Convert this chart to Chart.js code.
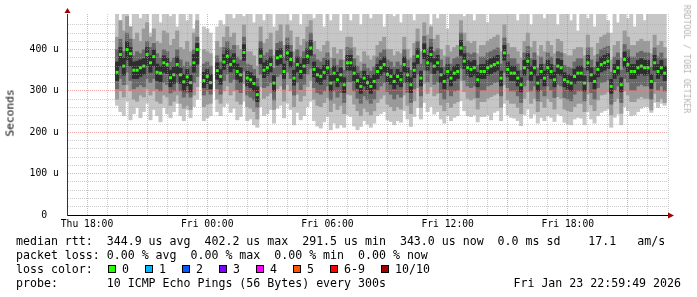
<!DOCTYPE html>
<html>
<head>
<meta charset="utf-8">
<script src="https://cdn.jsdelivr.net/npm/chart.js@4"></script>
<style>
  body { margin: 0; background: #fff; }
  #wrap { position: relative; width: 697px; height: 297px; overflow: hidden; background: #fff; }
  #chart { position: absolute; left: 0; top: 0; }
  .txt { position: absolute; font-family: 'DejaVu Sans Mono', monospace; color: #000; white-space: pre; }
  .line { font-size: 11.6px; line-height: 14px; left: 16px; }
  .box { position: absolute; width: 8px; height: 8px; box-sizing: border-box; border: 1px solid #000; }
</style>
</head>
<body>
<div id="wrap">
  <canvas id="chart" width="697" height="297"></canvas>
  <div class="txt" id="ylabel" style="font-size:11.2px;left:10px;top:113px;transform:translate(-50%,-50%) rotate(-90deg);">Seconds</div>
  <div class="txt" id="mark" style="font-size:8.2px;color:#b4b4b4;left:687px;top:59px;transform:translate(-50%,-50%) rotate(90deg);">RRDTOOL / TOBI OETIKER</div>
  <div id="legend"></div>
</div>
<script>
// time slots: minutes after Thu 17:00, one sample every 10 minutes
const startMin = 150;
const stepMin = 10;

// median rtt (us), null = no data
const median = [
  345,388,360,400,390,350,350,356,360,388,368,383,345,343,368,364,332,339,364,339,322,334,320,368,400,
  null,
  325,335,320,
  null,
  349,335,370,384,364,372,347,339,393,331,
  327,318,291,384,350,356,364,319,380,384,
  347,392,376,331,364,347,360,384,404,352,
  339,335,345,356,319,343,327,339,315,368,
  368,343,325,311,331,320,311,323,347,356,
  364,340,335,323,335,327,364,339,315,350,
  384,331,396,368,388,360,368,339,323,347,
  331,343,347,404,372,356,352,356,327,347,
  347,356,360,364,368,331,392,352,343,343,
  331,315,356,372,343,356,319,347,331,356,
  347,327,360,356,327,322,319,335,343,343,
  319,368,339,323,352,364,368,372,311,347,
  356,315,376,364,347,347,356,360,356,356,
  323,368,347,356,343
];

// smoke: outer pings (min / max)
const outerLo = [
  265,250,240,275,230,245,260,235,250,270,230,255,240,225,260,245,235,250,270,240,228,255,235,262,280,
  null,
  228,235,240,
  null,
  250,240,262,270,248,258,230,238,275,228,
  232,218,212,262,240,245,255,222,258,265,
  235,270,255,218,248,230,240,262,275,228,
  215,210,225,238,206,222,210,218,212,242,
  238,215,206,214,228,220,212,222,240,245,
  250,230,226,218,228,224,252,232,214,238,
  260,232,272,250,262,244,250,232,222,240,
  228,236,240,276,252,240,238,242,225,238,
  238,242,230,248,252,228,270,242,236,234,
  228,216,242,256,234,244,222,236,228,240,
  236,226,244,240,224,220,218,232,236,234,
  218,250,232,222,240,248,252,256,212,236,
  244,218,262,252,240,242,250,258,262,262,
  248,272,260,270,265
];
const outerHi = [
  490,470,490,490,455,490,490,475,490,490,440,490,490,465,490,490,480,490,455,490,490,470,490,450,490,
  null,
  455,450,440,
  null,
  455,470,460,490,490,475,490,490,480,490,
  490,465,490,490,470,490,490,455,490,490,
  490,490,470,490,490,460,490,490,490,475,
  490,490,455,490,470,490,490,445,490,490,
  470,490,490,460,490,490,475,490,490,490,
  455,490,490,480,490,465,490,490,490,470,
  490,490,490,490,460,490,475,490,490,450,
  490,490,490,490,480,490,490,470,490,490,
  490,465,490,490,490,490,490,490,490,490,
  470,490,490,490,460,490,490,490,475,490,
  490,490,460,490,490,490,470,490,445,490,
  490,475,490,455,490,490,490,470,440,490,
  465,490,490,475,490,455,490,490,470,490,
  490,490,490,490,490
];

// smoke: 2nd / 9th ping
const midLo = [
  280,300,285,315,300,280,275,290,285,305,290,300,275,270,290,285,265,275,290,270,258,265,255,290,310,
  null,
  262,268,270,
  null,
  280,270,300,312,290,300,275,268,318,262,
  258,250,232,310,282,288,295,255,305,312,
  275,315,300,262,292,275,288,310,325,280,
  265,262,272,284,250,270,255,265,245,292,
  290,268,252,240,258,250,242,252,272,282,
  290,268,262,252,262,256,290,265,245,276,
  308,260,318,294,310,288,294,266,252,272,
  260,270,274,325,298,282,278,282,256,274,
  274,282,286,290,294,260,315,278,270,270,
  260,245,282,298,270,282,250,274,260,282,
  274,256,286,282,256,252,250,262,270,270,
  250,292,266,252,278,290,292,298,242,274,
  282,246,300,290,274,274,282,286,282,282,
  254,294,274,282,272
];
const midHi = [
  430,470,445,480,455,425,440,420,450,465,430,450,420,415,445,440,410,425,445,405,400,420,395,440,470,
  null,
  400,395,390,
  null,
  420,405,430,455,430,440,410,400,460,395,
  395,385,360,455,415,425,440,385,445,460,
  410,460,445,395,430,410,425,455,470,420,
  400,395,410,420,380,405,390,400,375,430,
  430,405,385,370,395,385,375,385,410,420,
  430,400,400,385,395,390,430,400,380,415,
  450,395,465,435,455,425,435,400,385,410,
  395,405,410,470,440,420,415,420,390,410,
  410,420,425,430,435,395,460,415,405,405,
  395,380,420,440,405,420,385,410,395,420,
  410,390,425,420,390,385,385,400,405,405,
  385,435,405,385,415,430,435,440,375,410,
  420,380,445,430,410,410,420,425,420,420,
  390,435,410,420,405
];

// smoke: 3rd / 8th ping
const innerLo = [
  305,330,315,345,325,305,310,315,310,330,320,330,305,300,320,315,295,300,320,300,285,295,285,320,335,
  null,
  290,300,292,
  null,
  305,292,325,340,320,328,303,296,348,290,
  285,278,260,340,308,312,320,278,335,340,
  304,345,330,290,320,303,316,340,355,308,
  296,292,300,312,278,300,285,296,272,322,
  322,300,282,270,288,278,270,280,302,312,
  320,298,292,280,292,285,320,296,272,305,
  340,288,350,322,342,316,322,296,280,302,
  288,300,302,355,326,312,308,312,284,302,
  302,312,315,320,322,288,345,308,300,300,
  288,272,312,326,300,312,276,302,288,312,
  302,284,316,312,284,280,276,292,300,300,
  276,322,296,280,308,320,322,326,268,302,
  312,272,330,320,302,302,312,316,312,312,
  280,322,302,312,300
];
const innerHi = [
  400,425,395,440,425,385,395,390,400,420,405,415,390,380,400,395,370,380,400,375,360,370,360,400,430,
  null,
  365,370,360,
  null,
  385,370,405,420,400,410,382,375,430,365,
  362,352,330,420,385,392,400,355,415,420,
  382,428,410,368,400,382,395,420,440,388,
  375,370,380,392,355,378,362,375,350,405,
  402,378,360,348,365,355,348,358,382,392,
  400,375,370,358,370,362,400,375,350,385,
  420,365,432,402,425,395,402,375,358,382,
  365,378,382,440,408,392,388,392,362,382,
  382,392,395,400,404,365,428,388,378,378,
  365,350,392,408,378,392,355,382,365,392,
  382,362,395,392,362,358,355,370,378,378,
  355,404,375,358,388,400,404,408,345,382,
  392,350,412,400,382,382,392,396,392,392,
  358,404,382,392,378
];

// smoke: 4th / 7th ping (dark core)
const coreLo = [
  325,360,338,375,360,330,330,335,340,362,345,360,325,322,345,342,310,318,340,318,300,312,298,345,365,
  null,
  308,318,305,
  null,
  328,316,352,366,346,354,328,320,374,312,
  308,300,274,366,332,338,346,300,362,366,
  330,374,358,314,346,330,342,366,386,334,
  320,316,328,338,300,325,310,320,296,350,
  350,325,306,294,312,302,294,305,330,338,
  346,322,316,305,316,310,346,320,296,332,
  366,312,378,350,370,342,350,320,305,330,
  312,325,330,386,354,338,334,338,310,330,
  330,338,342,346,350,312,374,334,325,325,
  312,298,338,354,325,338,300,330,312,338,
  330,310,342,338,310,304,300,318,325,325,
  300,350,322,305,334,346,350,354,294,330,
  338,298,358,346,330,330,338,342,338,338,
  306,350,330,338,325
];
const coreHi = [
  370,405,380,420,405,370,372,375,378,405,385,400,365,360,385,380,350,358,382,355,340,352,338,388,415,
  null,
  345,352,340,
  null,
  368,352,388,402,382,390,365,356,412,348,
  344,336,310,402,368,374,382,337,398,402,
  365,410,394,350,382,365,378,402,422,370,
  356,352,362,374,337,360,345,356,332,386,
  386,360,342,330,348,338,330,340,364,374,
  382,358,352,340,352,345,382,356,332,368,
  402,348,414,386,406,378,386,356,340,364,
  348,360,364,422,390,374,370,374,345,364,
  364,374,378,382,386,348,410,370,360,360,
  348,332,374,390,360,374,336,364,348,374,
  364,345,378,374,344,340,336,352,360,360,
  336,386,356,340,370,382,386,390,328,364,
  374,332,394,382,364,364,374,378,374,374,
  340,386,364,374,360
];

// axes (x in hours after Thu 17:00)
const xTickHours = [1, 7, 13, 19, 25];
const xTickLabels = ['Thu 18:00', 'Fri 00:00', 'Fri 06:00', 'Fri 12:00', 'Fri 18:00'];
const yTickValues = [0, 100, 200, 300, 400];
const yTickLabels = ['0  ', '100 u', '200 u', '300 u', '400 u'];

// legend texts
const rttStats = ['344.9 us avg', '402.2 us max', '291.5 us min', '343.0 us now', '0.0 ms sd ', ' 17.1   am/s'];
const lossStats = ['0.00 % avg', '0.00 % max', '0.00 % min', '0.00 % now'];
const lossLabels = ['0', '1', '2', '3', '4', '5', '6-9', '10/10'];
const lossColors = ['#26ff00', '#00b8ff', '#0059ff', '#7e00ff', '#ff00ff', '#ff5500', '#ff0000', '#a10000'];
const probeText = '10 ICMP Echo Pings (56 Bytes) every 300s';
const dateText = 'Fri Jan 23 22:59:49 2026';

const hourOf = i => (startMin + i * stepMin) / 60;

function band(lo, hi) {
  const out = [];
  lo.forEach((v, i) => {
    if (v !== null) out.push({ x: hourOf(i), y: [v, hi[i]] });
  });
  return out;
}

const RED = 'rgba(228,120,120,0.62)';
const GREY = 'rgba(165,165,165,0.55)';

const arrows = {
  id: 'arrows',
  afterDraw(chart) {
    const { ctx, chartArea: a } = chart;
    ctx.save();
    ctx.fillStyle = '#a00000';
    ctx.beginPath();
    ctx.moveTo(a.left - 2.5, a.top - 1);
    ctx.lineTo(a.left + 3.5, a.top - 1);
    ctx.lineTo(a.left + 0.5, a.top - 6);
    ctx.fill();
    ctx.beginPath();
    ctx.moveTo(a.right + 0, a.bottom - 2.5);
    ctx.lineTo(a.right + 0, a.bottom + 3.5);
    ctx.lineTo(a.right + 6, a.bottom + 0.5);
    ctx.fill();
    ctx.restore();
  }
};

Chart.defaults.font.family = "'DejaVu Sans Mono', monospace";

const myChart = new Chart(document.getElementById('chart'), {
  type: 'bar',
  data: {
    datasets: [
      {
        type: 'line', label: 'median',
        data: median.map((v, i) => ({ x: hourOf(i), y: v })),
        showLine: false, pointStyle: 'rect', pointRadius: 2.1,
        pointBackgroundColor: '#26ff00', pointBorderWidth: 0, order: 0
      },
      { label: 'core', data: band(coreLo, coreHi), backgroundColor: '#2e2e2e', order: 1 },
      { label: 'inner', data: band(innerLo, innerHi), backgroundColor: '#686868', order: 2 },
      { label: 'mid', data: band(midLo, midHi), backgroundColor: '#9a9a9a', order: 3 },
      { label: 'outer', data: band(outerLo, outerHi), backgroundColor: '#c6c6c6', order: 4 }
    ]
  },
  options: {
    responsive: false,
    animation: false,
    devicePixelRatio: 1,
    layout: { padding: { left: 0, right: 29, top: 14, bottom: 60 } },
    plugins: { legend: { display: false }, tooltip: { enabled: false } },
    datasets: {
      bar: { grouped: false, barPercentage: 1, categoryPercentage: 1, borderWidth: 0 }
    },
    scales: {
      x: {
        type: 'linear', min: 0, max: 30, offset: false,
        afterFit: s => { s.height = 22; },
        grid: {
          offset: false, drawTicks: false, lineWidth: 1, z: 1,
          color: c => (c.tick.value % 3 === 1 ? RED : GREY)
        },
        border: { color: '#000', width: 1, dash: [1, 1], z: 2 },
        ticks: {
          stepSize: 1, autoSkip: false, maxRotation: 0, padding: 4,
          color: '#000', font: { size: 9.7 },
          callback: v => {
            const k = xTickHours.indexOf(v);
            return k < 0 ? '' : xTickLabels[k];
          }
        }
      },
      y: {
        type: 'linear', min: 0, max: 486,
        afterFit: s => { s.width = 67; },
        grid: {
          drawTicks: false, lineWidth: 1, z: 1,
          color: c => {
            const v = c.tick.value;
            if (v % 20 !== 0) return 'rgba(0,0,0,0)';
            return (v % 100 === 0 && v > 0) ? RED : GREY;
          }
        },
        border: { color: '#333', width: 1, dash: [1, 1], z: 2 },
        ticks: {
          stepSize: 20, autoSkip: false, padding: 8, color: '#000', font: { size: 9.8 },
          callback: v => {
            const k = yTickValues.indexOf(v);
            return k < 0 ? '' : yTickLabels[k];
          }
        }
      }
    }
  },
  plugins: [arrows]
});

// legend block under the plot
const legend = document.getElementById('legend');
function addText(text, left, top, cls) {
  const d = document.createElement('div');
  d.className = 'txt ' + (cls || 'line');
  d.style.left = left + 'px';
  d.style.top = top + 'px';
  d.textContent = text;
  legend.appendChild(d);
  return d;
}
addText('median rtt:  ' + rttStats.join('  '), 16, 234);
addText('packet loss: ' + lossStats.join('  '), 16, 248);
addText('loss color:', 16, 262);
let bx = 108;
lossLabels.forEach((lab, i) => {
  const b = document.createElement('div');
  b.className = 'box';
  b.style.left = bx + 'px';
  b.style.top = '265px';
  b.style.background = lossColors[i];
  legend.appendChild(b);
  addText(lab, bx + 14, 262);
  bx += 37 + 7 * (lab.length - 1);
});
addText('probe:       ' + probeText, 16, 276);
const dt = addText(dateText, 0, 276);
dt.style.left = 'auto';
dt.style.right = '16px';
</script>
</body>
</html>
